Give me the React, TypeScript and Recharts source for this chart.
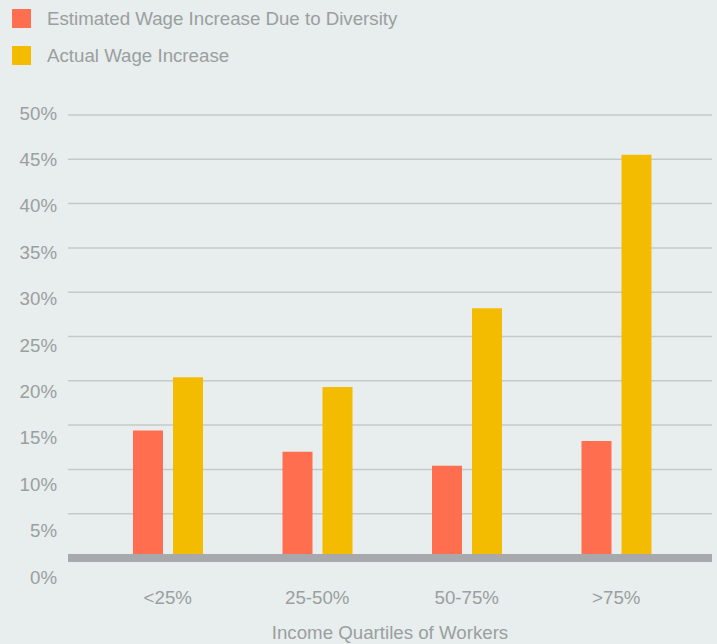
import React from "react";
import {
  BarChart,
  Bar,
  XAxis,
  YAxis,
  CartesianGrid,
  ReferenceLine,
} from "recharts";

const quartiles = ["<25%", "25-50%", "50-75%", ">75%"];
const estimatedIncrease = [14.4, 12.0, 10.4, 13.2];
const actualIncrease = [20.4, 19.3, 28.2, 45.5];
const yTicks = [0, 5, 10, 15, 20, 25, 30, 35, 40, 45, 50];

const SERIES = [
  { key: "estimated", label: "Estimated Wage Increase Due to Diversity", color: "#FF6E4E" },
  { key: "actual", label: "Actual Wage Increase", color: "#F4BC00" },
];

const BG = "#E8EDED";
const TEXT = "#9A9F9F";
const FONT = "'Liberation Sans', Arial, sans-serif";
const FS = 18.7;

const data = quartiles.map((q, i) => ({
  quartile: q,
  estimated: estimatedIncrease[i],
  actual: actualIncrease[i],
}));

// the labels in the original drift a little below their gridlines
function YTick(props: any) {
  const { x, y, payload } = props;
  const v = payload.value as number;
  const dy = -2 + (50 - v) * 0.42;
  return (
    <text
      x={x - 3}
      y={y + dy}
      textAnchor="end"
      dominantBaseline="central"
      fill={TEXT}
      fontSize={FS}
      fontFamily={FONT}
    >
      {`${v}%`}
    </text>
  );
}

function XTick(props: any) {
  const { x, payload } = props;
  return (
    <text
      x={x}
      y={597}
      textAnchor="middle"
      dominantBaseline="central"
      fill={TEXT}
      fontSize={FS}
      fontFamily={FONT}
    >
      {payload.value}
    </text>
  );
}

function LegendBlock() {
  return (
    <>
      {SERIES.map((s, i) => (
        <div
          key={s.key}
          style={{
            position: "absolute",
            left: 12,
            top: 9 + i * 37,
            display: "flex",
            alignItems: "center",
            height: 19,
          }}
        >
          <span style={{ width: 19, height: 19, background: s.color, display: "inline-block" }} />
          <span
            style={{
              marginLeft: 16,
              color: TEXT,
              fontSize: FS,
              fontFamily: FONT,
              whiteSpace: "nowrap",
            }}
          >
            {s.label}
          </span>
        </div>
      ))}
    </>
  );
}

export default function App() {
  return (
    <div
      style={{
        position: "absolute",
        left: 0,
        top: 0,
        width: 717,
        height: 644,
        background: BG,
        overflow: "hidden",
      }}
    >
      <BarChart
        width={717}
        height={644}
        data={data}
        margin={{ top: 115, right: 5, bottom: 0, left: 0 }}
        barSize={30}
        barGap={10}
      >
        <CartesianGrid vertical={false} stroke="#C4C9C9" strokeWidth={1.5} />
        <XAxis
          dataKey="quartile"
          axisLine={false}
          tickLine={false}
          height={86}
          padding={{ left: 25, right: 21 }}
          tick={<XTick />}
          interval={0}
        />
        <YAxis
          domain={[0, 50]}
          ticks={yTicks}
          width={68}
          axisLine={false}
          tickLine={false}
          tick={<YTick />}
          interval={0}
        />
        <Bar dataKey="estimated" fill={SERIES[0].color} isAnimationActive={false} />
        <Bar dataKey="actual" fill={SERIES[1].color} isAnimationActive={false} />
        <ReferenceLine y={0} stroke="#A8A9AC" strokeWidth={8} />
      </BarChart>
      <LegendBlock />
      <div
        style={{
          position: "absolute",
          left: 68,
          width: 644,
          top: 622,
          textAlign: "center",
          color: TEXT,
          fontSize: FS,
          fontFamily: FONT,
        }}
      >
        Income Quartiles of Workers
      </div>
    </div>
  );
}
